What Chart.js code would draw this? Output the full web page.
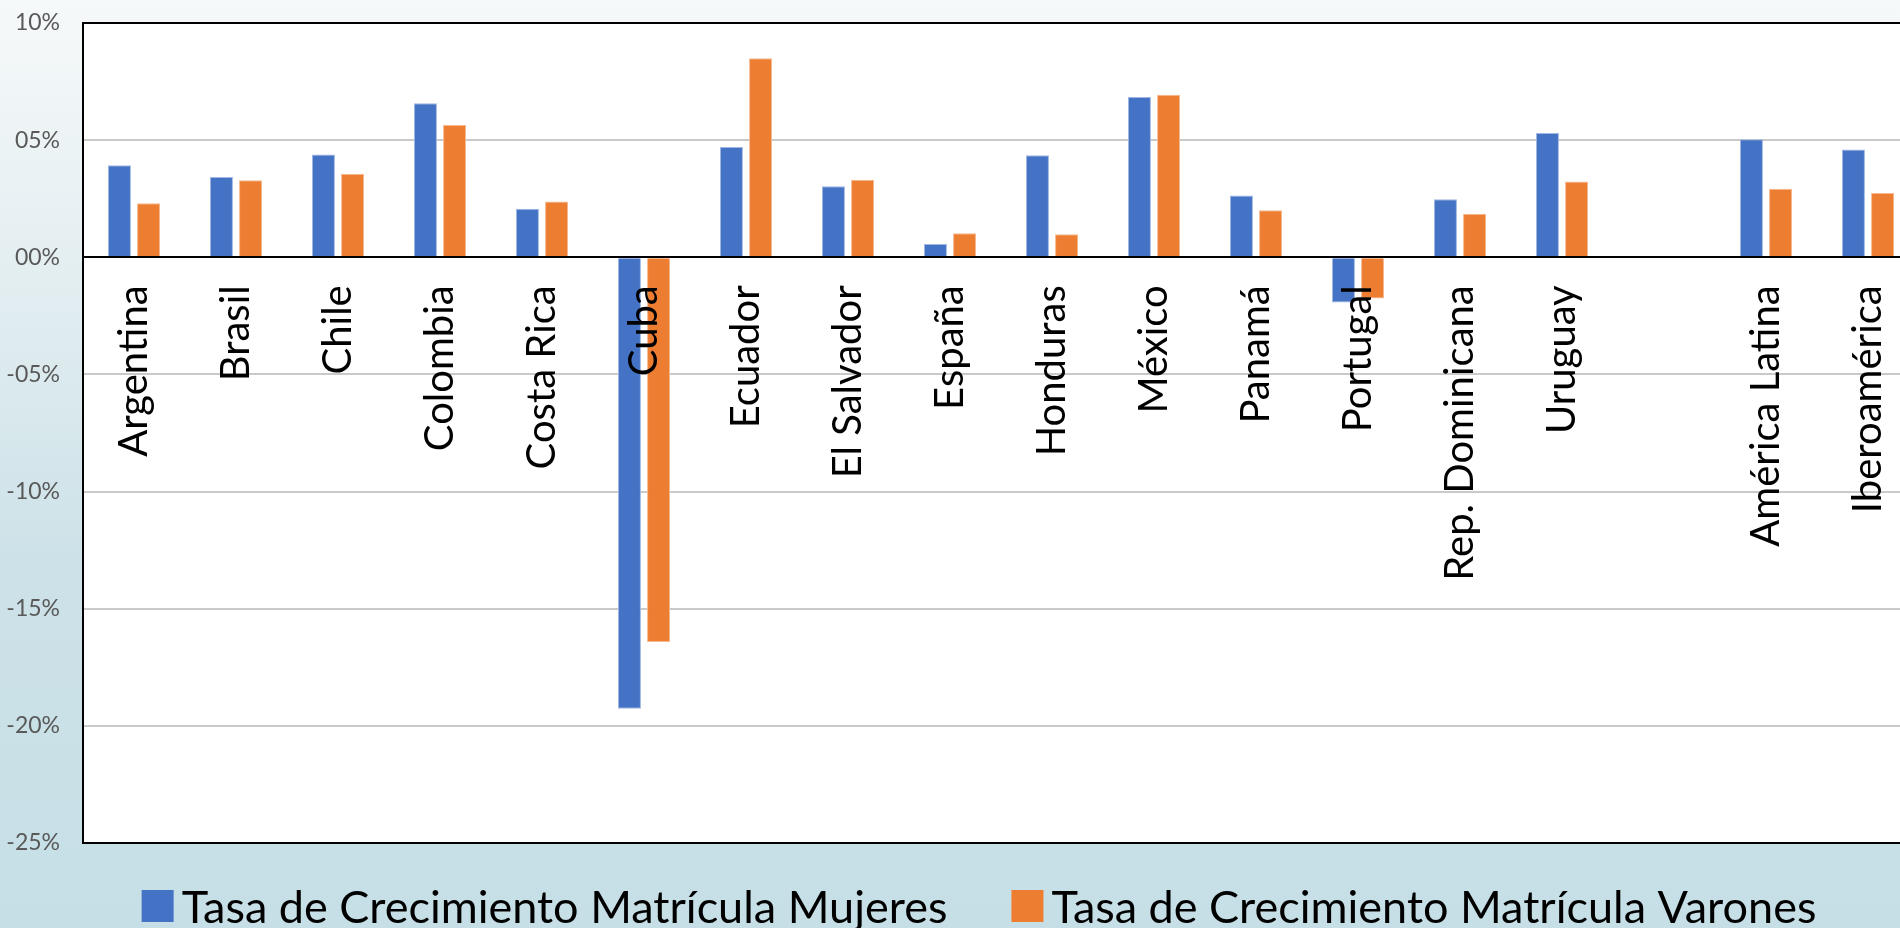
<!DOCTYPE html>
<html>
<head>
<meta charset="utf-8">
<script src="https://cdn.jsdelivr.net/npm/chart.js@4"></script>
<style>
  html, body {
    margin: 0;
    padding: 0;
    width: 1900px;
    height: 928px;
    overflow: hidden;
    background: linear-gradient(180deg, #f6f9fa 0%, #e3eef1 30%, #cde2e8 60%, #c6dfe6 100%);
  }
  #chart { position: absolute; left: 0; top: 0; }
</style>
</head>
<body>
<canvas id="chart" width="1958" height="928"></canvas>
<script>
const categories = [
  'Argentina', 'Brasil', 'Chile', 'Colombia', 'Costa Rica', 'Cuba', 'Ecuador',
  'El Salvador', 'España', 'Honduras', 'México', 'Panamá', 'Portugal',
  'Rep. Dominicana', 'Uruguay', '', 'América Latina', 'Iberoamérica'
];
const mujeres = [3.93, 3.43, 4.39, 6.58, 2.07, -19.27, 4.71, 3.03, 0.57, 4.35, 6.84, 2.64, -1.93, 2.48, 5.31, null, 5.04, 4.60];
const varones = [2.31, 3.29, 3.57, 5.65, 2.38, -16.42, 8.50, 3.31, 1.03, 0.98, 6.94, 2.01, -1.76, 1.86, 3.23, null, 2.93, 2.74];
const seriesNames = ['Tasa de Crecimiento Matrícula Mujeres', 'Tasa de Crecimiento Matrícula Varones'];
const seriesColors = ['#4472c4', '#ed7d31'];
const seriesEdges = ['#9fb7e2', '#f5b88f'];

const labelFont = 'Lato';

// white plot area + black frame
const plotFrame = {
  id: 'plotFrame',
  beforeDraw(chart) {
    const { ctx, chartArea: a } = chart;
    ctx.save();
    ctx.fillStyle = '#ffffff';
    ctx.fillRect(a.left, a.top, a.right - a.left, a.bottom - a.top);
    ctx.restore();
  },
  afterDraw(chart) {
    const { ctx, chartArea: a } = chart;
    ctx.save();
    ctx.strokeStyle = '#000000';
    ctx.lineWidth = 2;
    ctx.strokeRect(a.left, a.top, a.right - a.left, a.bottom - a.top);
    ctx.restore();
  }
};

// legend drawn under the plot, centred like the original
const bottomLegend = {
  id: 'bottomLegend',
  afterDraw(chart) {
    const ctx = chart.ctx;
    const box = 32, gap = 8, itemGap = 64, cy = 906, cx = 979;
    ctx.save();
    ctx.font = '45px ' + labelFont;
    ctx.textBaseline = 'middle';
    ctx.textAlign = 'left';
    const widths = chart.data.datasets.map(ds => ctx.measureText(ds.label).width);
    let total = 0;
    widths.forEach((w, i) => { total += box + gap + w + (i ? itemGap : 0); });
    let x = cx - total / 2;
    chart.data.datasets.forEach((ds, i) => {
      ctx.fillStyle = ds.backgroundColor;
      ctx.fillRect(x, cy - box / 2, box, box);
      x += box + gap;
      ctx.fillStyle = '#000000';
      ctx.fillText(ds.label, x, cy + 2);
      x += widths[i] + itemGap;
    });
    ctx.restore();
  }
};

function pct(v) {
  const n = Math.abs(Math.round(v));
  return (v < 0 ? '-' : '') + String(n).padStart(2, '0') + '%';
}

new Chart(document.getElementById('chart'), {
  type: 'bar',
  data: {
    labels: categories,
    datasets: [
      {
        label: seriesNames[0],
        data: mujeres,
        backgroundColor: seriesColors[0],
        borderColor: seriesEdges[0],
        borderWidth: 1
      },
      {
        label: seriesNames[1],
        data: varones,
        backgroundColor: seriesColors[1],
        borderColor: seriesEdges[1],
        borderWidth: 1
      }
    ]
  },
  options: {
    responsive: false,
    animation: false,
    categoryPercentage: 0.57,
    barPercentage: 0.79,
    layout: { padding: { left: 0, right: 39, top: 23, bottom: 85 } },
    plugins: {
      legend: { display: false },
      tooltip: { enabled: false }
    },
    scales: {
      x: {
        type: 'category',
        position: { y: 0 },
        offset: true,
        grid: { display: false, drawTicks: false },
        border: { display: true, color: '#000000', width: 2, z: 1 },
        ticks: {
          autoSkip: false,
          minRotation: 90,
          maxRotation: 90,
          padding: 28,
          z: 1,
          color: '#000000',
          font: { family: labelFont, size: 40 }
        },
        afterFit(scale) { scale.height = 0; }
      },
      y: {
        min: -25,
        max: 10,
        ticks: {
          stepSize: 5,
          padding: 0,
          color: '#595959',
          font: { family: labelFont, size: 23 },
          callback: v => pct(v)
        },
        grid: { color: '#c9c9c9', lineWidth: 2, drawTicks: true, tickLength: 23, tickColor: 'rgba(0,0,0,0)' },
        border: { display: true, color: '#000000', width: 2 },
        afterFit(scale) { scale.width = 83; }
      }
    }
  },
  plugins: [plotFrame, bottomLegend]
});
</script>
</body>
</html>
